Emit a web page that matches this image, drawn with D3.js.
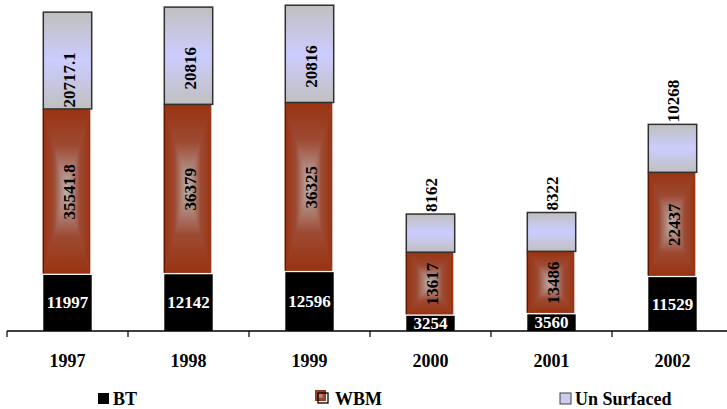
<!DOCTYPE html>
<html>
<head>
<meta charset="utf-8">
<script src="https://cdn.jsdelivr.net/npm/d3@7/dist/d3.min.js"></script>
<style>
  html, body { margin: 0; padding: 0; background: #fff; }
  svg { display: block; }
  text { font-family: "Liberation Serif", "Times New Roman", serif; font-weight: bold; }
</style>
</head>
<body>
<svg id="chart" width="727" height="409"></svg>
<script>
// Road length by surface type, per year
const years = ["1997", "1998", "1999", "2000", "2001", "2002"];
const bt = [11997, 12142, 12596, 3254, 3560, 11529];
const wbm = [35541.8, 36379, 36325, 13617, 13486, 22437];
const unSurfaced = [20717.1, 20816, 20816, 8162, 8322, 10268];
const seriesNames = ["BT", "WBM", "Un Surfaced"];
const seriesKeys = ["bt", "wbm", "us"];

const table = years.map((y, i) => ({ year: y, bt: bt[i], wbm: wbm[i], us: unSurfaced[i] }));

const svg = d3.select("#chart");
const W = 727, H = 409;
const baseY = 331;

const x = d3.scaleBand().domain(years).range([7, 733]).paddingInner(0.6).paddingOuter(0.3);
const y = d3.scaleLinear().domain([0, 70000]).range([baseY, 4]);

const stack = d3.stack().keys(seriesKeys);
const layers = stack(table);

// ---- gradients ----
const defs = svg.append("defs");
const brown = "#993311", brownMid = "#9d4a33", grayC = "#bdb8b8";
function edgeGrad(id, x1, y1, x2, y2) {
  const g = defs.append("linearGradient").attr("id", id)
    .attr("x1", x1).attr("y1", y1).attr("x2", x2).attr("y2", y2);
  g.append("stop").attr("offset", "0").attr("stop-color", brown);
  g.append("stop").attr("offset", "0.45").attr("stop-color", brownMid);
  g.append("stop").attr("offset", "1").attr("stop-color", grayC);
}
edgeGrad("wbmL", 0, 0, 1, 0);
edgeGrad("wbmR", 1, 0, 0, 0);
edgeGrad("wbmT", 0, 0, 0, 1);
edgeGrad("wbmB", 0, 1, 0, 0);

const usGrad = defs.append("linearGradient").attr("id", "usGrad")
  .attr("x1", 0).attr("y1", 0).attr("x2", 0).attr("y2", 1);
usGrad.append("stop").attr("offset", "0").attr("stop-color", "#c0c0c0");
usGrad.append("stop").attr("offset", "0.5").attr("stop-color", "#ccccff");
usGrad.append("stop").attr("offset", "1").attr("stop-color", "#c0c0c0");

// rectangular "from centre" fill built from four triangles
function wbmFill(g, x0, y0, w, h) {
  const cx = x0 + w / 2, cy = y0 + h / 2, x1 = x0 + w, y1 = y0 + h;
  g.append("rect").attr("x", x0).attr("y", y0).attr("width", w).attr("height", h).attr("fill", brownMid);
  g.append("path").attr("d", `M${x0},${y0}L${cx},${cy}L${x0},${y1}Z`).attr("fill", "url(#wbmL)");
  g.append("path").attr("d", `M${x1},${y0}L${cx},${cy}L${x1},${y1}Z`).attr("fill", "url(#wbmR)");
  g.append("path").attr("d", `M${x0},${y0}L${x1},${y0}L${cx},${cy}Z`).attr("fill", "url(#wbmT)");
  g.append("path").attr("d", `M${x0},${y1}L${x1},${y1}L${cx},${cy}Z`).attr("fill", "url(#wbmB)");
}

const bw = x.bandwidth();
const bars = svg.append("g");

table.forEach((d, i) => {
  const x0 = x(d.year);
  const g = bars.append("g");
  const sBT = layers[0][i], sW = layers[1][i], sU = layers[2][i];

  // BT
  g.append("rect").attr("x", x0).attr("y", y(sBT[1])).attr("width", bw)
    .attr("height", y(sBT[0]) - y(sBT[1])).attr("fill", "#000");

  // WBM
  const wy0 = y(sW[1]), wy1 = y(sW[0]) - 1.5;
  wbmFill(g, x0, wy0, bw - 1.5, wy1 - wy0);
  g.append("line").attr("x1", x0).attr("x2", x0).attr("y1", wy0).attr("y2", wy1)
    .attr("stroke", "#5e1800").attr("stroke-width", 1.5);

  // Un Surfaced
  g.append("rect").attr("x", x0).attr("y", y(sU[1])).attr("width", bw)
    .attr("height", y(sU[0]) - y(sU[1])).attr("fill", "url(#usGrad)")
    .attr("stroke", "#303030").attr("stroke-width", 1.5);
});

// ---- value labels ----
const labels = svg.append("g");
const fs = 17;
table.forEach((d, i) => {
  const cx = x(d.year) + bw / 2;
  const sBT = layers[0][i], sW = layers[1][i], sU = layers[2][i];

  labels.append("text").attr("x", cx).attr("y", (y(sBT[0]) + y(sBT[1])) / 2)
    .attr("text-anchor", "middle").attr("dominant-baseline", "central")
    .attr("font-size", fs).attr("fill", "#fff").text(String(d.bt));

  const wcy = (y(sW[0]) + y(sW[1])) / 2;
  labels.append("text").attr("transform", `translate(${cx + 2},${wcy}) rotate(-90)`)
    .attr("text-anchor", "middle").attr("dominant-baseline", "central")
    .attr("font-size", fs).attr("fill", "#000").text(String(d.wbm));

  const top = y(sU[1]);
  if (d.us < 15000) {
    labels.append("text").attr("transform", `translate(${cx + 1},${top - 2}) rotate(-90)`)
      .attr("text-anchor", "start").attr("dominant-baseline", "central")
      .attr("font-size", fs).attr("fill", "#000").text(String(d.us));
  } else {
    labels.append("text").attr("transform", `translate(${cx + 2},${top + 40}) rotate(-90)`)
      .attr("text-anchor", "end").attr("dominant-baseline", "central")
      .attr("font-size", fs).attr("fill", "#000").text(String(d.us));
  }
});

// ---- category axis ----
const axisG = svg.append("g").attr("transform", `translate(0,${baseY})`);
axisG.call(d3.axisBottom(x).tickSize(0).tickPadding(0));
axisG.select(".domain").remove();
axisG.selectAll(".tick text")
  .attr("y", 36).attr("dy", 0)
  .attr("font-size", 18).attr("fill", "#000")
  .style("font-family", "'Liberation Serif', 'Times New Roman', serif").style("font-weight", "bold");
axisG.append("line").attr("x1", 7).attr("x2", 733).attr("y1", 0).attr("y2", 0)
  .attr("stroke", "#000").attr("stroke-width", 1.5);
const step = x.step();
const bounds = d3.range(years.length + 1).map(k => 7 + k * step);
axisG.selectAll(".bound").data(bounds).join("line").attr("class", "bound")
  .attr("x1", d => d).attr("x2", d => d).attr("y1", 0).attr("y2", 6)
  .attr("stroke", "#000").attr("stroke-width", 1.2);

// ---- legend ----
const legendX = [98, 315, 560];
const legend = svg.append("g");
seriesNames.forEach((name, i) => {
  const lx = legendX[i];
  const g = legend.append("g");
  if (i === 0) {
    g.append("rect").attr("x", lx).attr("y", 393).attr("width", 11).attr("height", 11).attr("fill", "#000");
  } else if (i === 1) {
    wbmFill(g, lx, 390, 11, 11);
    g.append("rect").attr("x", lx + 3).attr("y", 393).attr("width", 10).attr("height", 10)
      .attr("fill", "none").attr("stroke", "#000").attr("stroke-width", 1.3);
  } else {
    g.append("rect").attr("x", lx).attr("y", 393).attr("width", 11).attr("height", 11)
      .attr("fill", "#ccccf0").attr("stroke", "#404040").attr("stroke-width", 1);
  }
  g.append("text").attr("x", lx + (i === 1 ? 20 : 15)).attr("y", 405)
    .attr("font-size", 18).attr("fill", "#000").text(name);
});
</script>
</body>
</html>
